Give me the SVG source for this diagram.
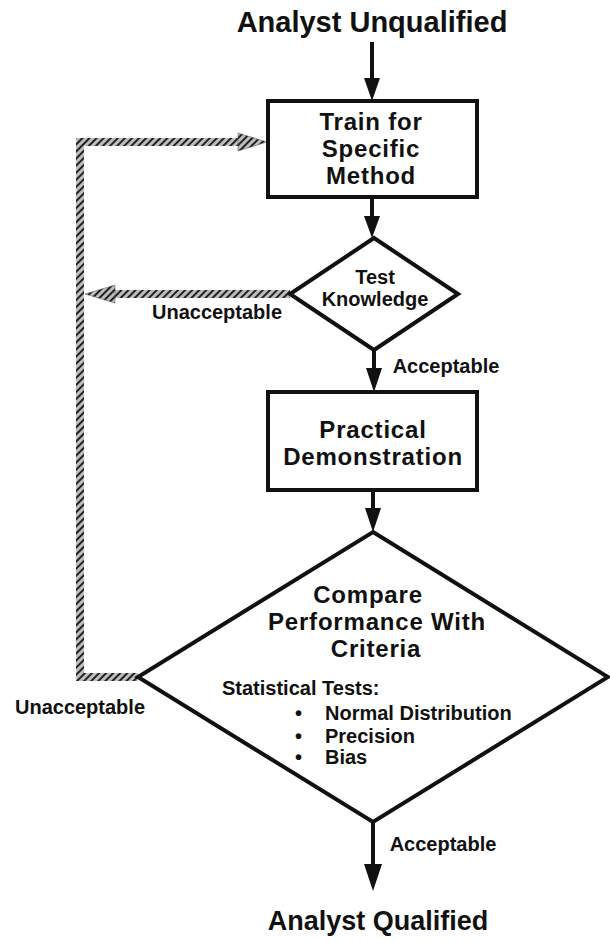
<svg xmlns="http://www.w3.org/2000/svg" width="610" height="941" viewBox="0 0 610 941">
<style>
text{font-family:"Liberation Sans",Arial,sans-serif;font-weight:bold;fill:#111;text-anchor:middle}
.start{text-anchor:start}
.box{font-size:24px;letter-spacing:0.8px}
.lbl{font-size:20px}
.shape{fill:#fff;stroke:#111;stroke-width:4}
.flow{stroke:#111;stroke-width:4;fill:none}
.ret{stroke:url(#hatch);stroke-width:8;fill:none}
.ahead{fill:#111}
.rhead{fill:url(#hatch);stroke:#555;stroke-width:0.5}
</style>
<defs>
<pattern id="hatch" patternUnits="userSpaceOnUse" width="5" height="5" patternTransform="rotate(45)">
<rect width="5" height="5" fill="#bdbdbd"/>
<rect width="2" height="5" fill="#222"/>
</pattern>
</defs>
<text x="372" y="32" style="font-size:29px">Analyst Unqualified</text>
<g id="connectors">
<line class="flow" x1="372" y1="42" x2="372" y2="80"/>
<polygon class="ahead" points="364,78 380,78 372,101"/>
<line class="flow" x1="372" y1="197" x2="372" y2="218"/>
<polygon class="ahead" points="364,216 380,216 372,238"/>
<line class="flow" x1="374" y1="350" x2="374" y2="370"/>
<polygon class="ahead" points="366,368 382,368 374,392"/>
<line class="flow" x1="373" y1="490" x2="373" y2="510"/>
<polygon class="ahead" points="365,508 381,508 373,532"/>
<line class="flow" x1="373" y1="822" x2="373" y2="868"/>
<polygon class="ahead" points="364,864 382,864 373,891"/>
<polyline class="ret" points="138,677 80,677 80,142 240,142"/>
<polygon class="rhead" points="238,133 267,142 238,151"/>
<line class="ret" x1="290" y1="294" x2="112" y2="294"/>
<polygon class="rhead" points="115,285 85,294 115,303"/>
<text class="lbl" x="217" y="319">Unacceptable</text>
<text class="lbl" x="446" y="373">Acceptable</text>
<text class="lbl" x="80" y="714">Unacceptable</text>
<text class="lbl" x="443" y="851">Acceptable</text>
</g>
<g id="train">
<rect class="shape" x="268" y="101" width="209" height="96"/>
<text class="box" x="371" y="130">Train for</text>
<text class="box" x="371" y="157">Specific</text>
<text class="box" x="371" y="184">Method</text>
</g>
<g id="test">
<polygon class="shape" points="374,238 458,294 374,350 290,294"/>
<text class="lbl" x="375" y="284">Test</text>
<text class="lbl" x="375" y="306">Knowledge</text>
</g>
<g id="practical">
<rect class="shape" x="268" y="392" width="209" height="98"/>
<text class="box" x="373" y="438">Practical</text>
<text class="box" x="373" y="465">Demonstration</text>
</g>
<g id="compare">
<polygon class="shape" points="373,532 608,677 373,822 138,677"/>
<text class="box" x="368" y="603">Compare</text>
<text class="box" x="377" y="630">Performance With</text>
<text class="box" x="376" y="657">Criteria</text>
<text class="lbl start" x="222" y="695">Statistical Tests:</text>
<text class="lbl start" x="295" y="720">•</text>
<text class="lbl start" x="325" y="720">Normal Distribution</text>
<text class="lbl start" x="295" y="743">•</text>
<text class="lbl start" x="325" y="743">Precision</text>
<text class="lbl start" x="295" y="764">•</text>
<text class="lbl start" x="325" y="764">Bias</text>
</g>
<text x="378" y="930" style="font-size:27px">Analyst Qualified</text>
</svg>
